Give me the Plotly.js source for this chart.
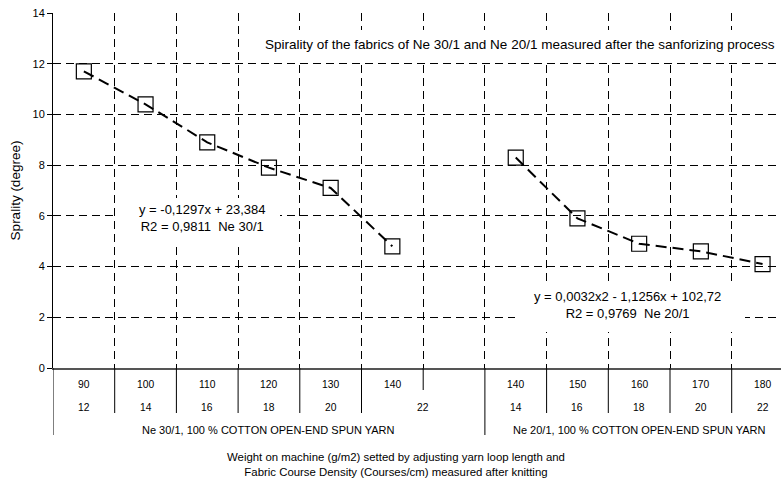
<!DOCTYPE html>
<html>
<head>
<meta charset="utf-8">
<script src="https://cdn.plot.ly/plotly-3.0.1.min.js"></script>
<style>html,body{margin:0;padding:0;background:#fff;}#chart{width:781px;height:482px;}</style>
</head>
<body>
<div id="chart"></div>
<script>
// ---- data ----
const weights30 = [90, 100, 110, 120, 130, 140];
const density30 = [12, 14, 16, 18, 20, 22];
const spirality30 = [11.7, 10.4, 8.9, 7.9, 7.1, 4.8];
const weights20 = [140, 150, 160, 170, 180];
const density20 = [14, 16, 18, 20, 22];
const spirality20 = [8.3, 5.9, 4.9, 4.6, 4.1];
const groupLabels = ['Ne 30/1, 100 % COTTON OPEN-END SPUN YARN', 'Ne 20/1, 100 % COTTON OPEN-END SPUN YARN'];
const yTicks = [0, 2, 4, 6, 8, 10, 12, 14];
const chartTitle = 'Spirality of the fabrics of Ne 30/1 and Ne 20/1 measured after the sanforizing process';
const eq30 = 'y = -0,1297x + 23,384<br>R2 = 0,9811  Ne 30/1';
const eq20 = 'y = 0,0032x2 - 1,1256x + 102,72<br>R2 = 0,9769  Ne 20/1';
const xTitle = 'Weight on machine (g/m2) setted by adjusting yarn loop length and<br>Fabric Course Density (Courses/cm) measured after knitting';
const yTitle = 'Sprality (degree)';

// ---- slot layout: group 1 slots, one empty slot, group 2 slots ----
const n30 = weights30.length;
const gapSlot = n30;               // empty slot
const start20 = n30 + 1;
const nSlots = start20 + weights20.length;
const x30 = weights30.map((_, i) => i);
const x20 = weights20.map((_, i) => start20 + i);

const FONT = 'Liberation Sans, Arial, sans-serif';
// geometry helpers (plot area: left 53, top 13, bottom 368)
const plotTop = 13, plotBottom = 368, plotLeft = 53, plotW = 728;
const plotH = plotBottom - plotTop;
const py = p => (plotBottom - p) / plotH;     // pixel row -> paper y
const px = p => (p - plotLeft) / plotW;       // pixel col -> paper x

const lineStyle = {color: '#000', width: 2, dash: '11px,6px'};
const markerStyle = {symbol: 'square-open', size: 15, color: '#000', line: {color: '#000', width: 1.2}};

const traces = [
  {x: x30, y: spirality30, type: 'scatter', mode: 'lines+markers', line: lineStyle, marker: markerStyle, showlegend: false, hoverinfo: 'skip'},
  {x: x20, y: spirality20, type: 'scatter', mode: 'lines+markers', line: lineStyle, marker: markerStyle, showlegend: false, hoverinfo: 'skip'}
];

// boundaries between slots -> vertical grid lines
const boundaries = [];
for (let b = 0; b < nSlots - 1; b++) boundaries.push(b + 0.5);

// table lines under the axis
const shapes = [];
const rowAll = py(435), rowTwo = py(413), rowOne = py(390);
function vline(x, y1) {
  shapes.push({type: 'line', xref: 'x', yref: 'paper', x0: x, x1: x, y0: 0, y1: y1, line: {color: '#000', width: 1}});
}
vline(-0.5, rowAll);
boundaries.forEach(b => {
  if (b === gapSlot - 0.5) vline(b, rowOne);
  else if (b === gapSlot + 0.5) vline(b, rowAll);
  else vline(b, rowTwo);
});

// white boxes behind the texts (cover grid)
function box(x0, x1, y0, y1) {
  shapes.push({type: 'rect', xref: 'paper', yref: 'paper', x0: px(x0), x1: px(x1), y0: py(y1), y1: py(y0), fillcolor: '#fff', line: {width: 0}, layer: 'above'});
}
box(262, 779, 30, 60);
box(117, 280, 198, 244);
box(515, 745, 281, 332);

const annotations = [];
const tfont = {family: FONT, size: 10.3, color: '#000'};
function ann(x, y, text, font, xref) {
  annotations.push({x: x, y: y, xref: xref || 'x', yref: 'paper', text: text, showarrow: false, font: font, xanchor: 'center', yanchor: 'middle'});
}
weights30.forEach((w, i) => ann(x30[i], py(384), String(w), tfont));
weights20.forEach((w, i) => ann(x20[i], py(384), String(w), tfont));
density30.forEach((d, i) => ann(i === n30 - 1 ? x30[i] + 0.5 : x30[i], py(407), String(d), tfont));
density20.forEach((d, i) => ann(x20[i], py(407), String(d), tfont));
const gfont = {family: FONT, size: 11, color: '#000'};
ann((-0.5 + gapSlot + 0.5) / 2, py(430), groupLabels[0], gfont);
ann((gapSlot + 0.5 + nSlots - 0.5) / 2, py(430), groupLabels[1], gfont);

const afont = {family: FONT, size: 13, color: '#000'};
annotations.push({xref: 'paper', yref: 'paper', x: px(520), y: py(44), text: chartTitle, showarrow: false, font: {family: FONT, size: 13.5, color: '#000'}, xanchor: 'center', yanchor: 'middle'});
annotations.push({xref: 'paper', yref: 'paper', x: px(202), y: py(218), text: eq30, showarrow: false, font: afont, xanchor: 'center', yanchor: 'middle'});
annotations.push({xref: 'paper', yref: 'paper', x: px(627), y: py(305), text: eq20, showarrow: false, font: afont, xanchor: 'center', yanchor: 'middle'});
annotations.push({xref: 'paper', yref: 'paper', x: px(396), y: py(464), text: xTitle, showarrow: false, font: {family: FONT, size: 11.4, color: '#000'}, xanchor: 'center', yanchor: 'middle'});

const layout = {
  width: 781, height: 482,
  margin: {l: plotLeft, r: 0, t: plotTop, b: 482 - plotBottom, pad: 0},
  paper_bgcolor: '#fff', plot_bgcolor: '#fff',
  font: {family: FONT, size: 10, color: '#000'},
  showlegend: false,
  xaxis: {
    range: [-0.5, -0.5 + plotW / 61.7],
    tickmode: 'array', tickvals: boundaries, showticklabels: false, ticks: '',
    showgrid: true, gridcolor: '#000', gridwidth: 1, griddash: '8px,5px',
    showline: true, linecolor: '#555', linewidth: 2, zeroline: false, fixedrange: true
  },
  yaxis: {
    range: [0, 14], tickmode: 'array', tickvals: yTicks,
    ticks: 'outside', ticklen: 5, tickcolor: '#000', tickwidth: 1,
    tickfont: {family: FONT, size: 11, color: '#000'},
    showgrid: true, gridcolor: '#000', gridwidth: 1, griddash: '8px,5px',
    showline: true, linecolor: '#000', linewidth: 1, zeroline: false, fixedrange: true,
    title: {text: yTitle, font: {family: FONT, size: 13.5, color: '#000'}, standoff: 8}
  },
  shapes: shapes,
  annotations: annotations
};

Plotly.newPlot('chart', traces, layout, {displayModeBar: false, staticPlot: true});
</script>
</body>
</html>
